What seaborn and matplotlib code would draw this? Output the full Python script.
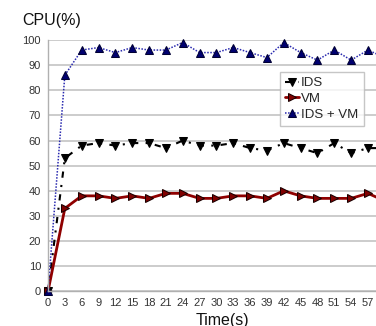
import numpy as np
import pandas as pd
import matplotlib
matplotlib.use("Agg")
import matplotlib.pyplot as plt
import seaborn as sns

# Sampling times (seconds)
time_s = [0, 3, 6, 9, 12, 15, 18, 21, 24, 27, 30, 33, 36, 39, 42, 45, 48, 51, 54, 57, 60]

# CPU usage (%) per configuration
cpu_ids = [0, 53, 58, 59, 58, 59, 59, 57, 60, 58, 58, 59, 57, 56, 59, 57, 55, 59, 55, 57, 57]
cpu_vm = [0, 33, 38, 38, 37, 38, 37, 39, 39, 37, 37, 38, 38, 37, 40, 38, 37, 37, 37, 39, 36]
cpu_ids_vm = [0, 86, 96, 97, 95, 97, 96, 96, 99, 95, 95, 97, 95, 93, 99, 95, 92, 96, 92, 96, 93]

series_labels = ["IDS", "VM", "IDS + VM"]
x_ticks = list(range(0, 58, 3))
y_ticks = list(range(0, 101, 10))

sns.set_style("white")
plt.rcParams["font.family"] = ["Liberation Sans", "DejaVu Sans"]

W, H = 376, 326
fig = plt.figure(figsize=(W / 100, H / 100), dpi=100)
ax_left, ax_bottom = 48 / W, (H - 291.4) / H
ax_w, ax_h = 336.8 / W, 251.4 / H
ax = fig.add_axes([ax_left, ax_bottom, ax_w, ax_h])

df = pd.DataFrame({"t": time_s, "IDS": cpu_ids, "VM": cpu_vm, "IDS + VM": cpu_ids_vm})

styles = {
    "IDS": dict(color="black", marker="v", linestyle=(0, (3, 3.5, 1, 3.5)), linewidth=1.5,
                markerfacecolor="black", markeredgecolor="black"),
    "VM": dict(color="#8f0000", marker=">", linestyle="-", linewidth=2.0,
               markerfacecolor="#800000", markeredgecolor="#1a0000"),
    "IDS + VM": dict(color="#2a2ab0", marker="^", linestyle=(0, (1, 1)), linewidth=1.1,
                     markerfacecolor="#000070", markeredgecolor="#000033"),
}

for name in series_labels:
    sns.lineplot(data=df, x="t", y=name, ax=ax, label=name, markersize=5.5,
                 clip_on=False, **styles[name])

ax.set_xlim(0, 60)
ax.set_ylim(0, 100)
ax.set_xticks(x_ticks)
ax.set_yticks(y_ticks)
ax.tick_params(axis="both", labelsize=8, colors="#333333", length=3, width=0.8,
               direction="out", pad=2)
ax.tick_params(axis="x", color="#b0b0b0")
ax.tick_params(axis="y", color="#b0b0b0")
ax.yaxis.grid(True, color="#c8c8c8", linewidth=1.3)
ax.xaxis.grid(False)
ax.set_axisbelow(True)
for side in ["top", "right"]:
    ax.spines[side].set_visible(False)
for side in ["left", "bottom"]:
    ax.spines[side].set_color("#b0b0b0")
    ax.spines[side].set_linewidth(1.0)
ax.set_xlabel("")
ax.set_ylabel("")

leg = ax.legend(loc="upper left", bbox_to_anchor=(0.689, 0.873), borderaxespad=0,
                fontsize=9.5, frameon=True, fancybox=False, handlelength=1.0,
                handletextpad=0.2, labelspacing=0.25, borderpad=0.4)
leg.get_frame().set_edgecolor("#b8b8b8")
leg.get_frame().set_linewidth(1.0)

fig.text(22 / W, (H - 25.5) / H, "CPU(%)", fontsize=11.5, color="#111111", va="baseline", ha="left")
fig.text(222 / W, (H - 324.5) / H, "Time(s)", fontsize=11.5, color="#111111", va="baseline", ha="center")

fig.savefig("out.png", dpi=100)
